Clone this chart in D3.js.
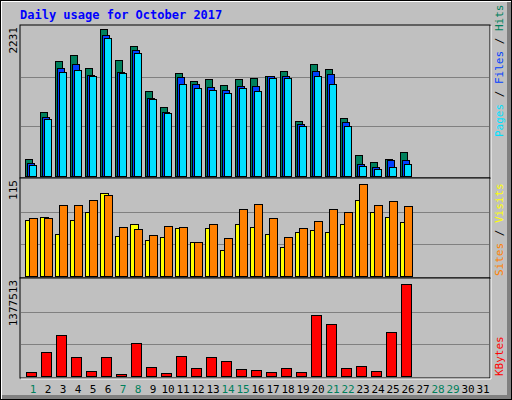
<!DOCTYPE html>
<html><head><meta charset="utf-8">
<script src="https://cdn.jsdelivr.net/npm/d3@7"></script>
<style>body{margin:0;background:#fff}text{font-family:"DejaVu Sans Mono",monospace}</style>
</head><body>
<script>
let days = d3.range(1, 32);
let weekend = [1, 7, 8, 14, 15, 21, 22, 28, 29];
let hits = [258,971,1744,1836,1638,2231,1760,1972,1289,1047,1563,1441,1471,1380,1471,1486,1517,1592,834,1698,1623,879,318,212,258,364];
let files = [197,895,1638,1698,1532,2139,1577,1911,1183,971,1501,1395,1349,1305,1365,1365,1517,1517,788,1592,1547,819,182,137,243,243];
let pages = [167,865,1577,1608,1517,2093,1563,1866,1168,956,1395,1335,1305,1259,1335,1289,1486,1486,759,1517,1395,759,152,106,137,182];
let visits = [70,74,52.5,70,80,104,50,65,45,49,60,42.5,60,32.5,65,61,52.5,36,55,57.5,55,65,95,80,74,67.5];
let sites = [72.5,72.5,89,89,95,101,61,59,51,62.5,61,42.5,65,47.5,84,90,72.5,49,60,69,84,80,115,89,94,87.5];
let kbytes = [65351,351890,608267,291566,80432,291566,35189,487619,140756,50270,306647,125675,291566,231242,110594,95513,65351,125675,65351,909887,774158,125675,155837,80432,653510,1377513];

let svg = d3.select('body').append('svg').attr('width', 512).attr('height', 400);

// outer frame
svg.append('rect').attr('width', 512).attr('height', 400).attr('fill', '#000');
svg.append('rect').attr('x', 1).attr('y', 1).attr('width', 510).attr('height', 398).attr('fill', '#fff');
svg.append('rect').attr('x', 2).attr('y', 2).attr('width', 509).attr('height', 397).attr('fill', '#808080');
svg.append('rect').attr('x', 2).attr('y', 2).attr('width', 505).attr('height', 393).attr('fill', '#C0C0C0');

svg.append('text').attr('x', 20).attr('y', 19).attr('fill', '#0000FF')
    .attr('font-size', 12).attr('font-weight', 'bold').text('Daily usage for October 2017');

let x = d3.scaleBand().domain(days).range([20, 485]);

let panels = [
    {top: 25, bottom: 178, base: 176, max: 2231, label: '2231', scaleTop: 29},
    {top: 178, bottom: 278, base: 276, max: 115, label: '115', scaleTop: 184},
    {top: 278, bottom: 378, base: 376, max: 1377513, label: '1377513', scaleTop: 284}
];

panels.forEach(p => {
    p.y = d3.scaleLinear().domain([0, p.max]).range([p.base, p.scaleTop]);
    svg.append('rect').attr('x', 20).attr('y', p.top).attr('width', 470).attr('height', p.bottom - p.top)
        .attr('fill', '#C0C0C0').attr('stroke', '#000');
    svg.append('line').attr('x1', 21).attr('x2', 491).attr('y1', p.bottom + 1).attr('y2', p.bottom + 1).attr('stroke', '#fff');
    svg.append('line').attr('x1', 491).attr('x2', 491).attr('y1', p.top + 1).attr('y2', p.bottom + 1).attr('stroke', '#fff');
    let gy = d3.scaleLinear().domain([0, 3]).range([p.base, p.top + 2]);
    [1, 2].forEach(g => svg.append('line').attr('x1', 21).attr('x2', 489)
        .attr('y1', Math.round(gy(g)) + 0.5).attr('y2', Math.round(gy(g)) + 0.5).attr('stroke', '#808080'));
    svg.append('text').attr('transform', `translate(17,${p.top + 2}) rotate(-90)`)
        .attr('text-anchor', 'end').attr('font-size', 11).attr('fill', '#000').text(p.label);
});

let bars = function(data, p, off, w, color) {
    svg.append('g').selectAll('rect').data(data).enter().append('rect')
        .attr('x', (d, i) => x(i + 1) + off + 0.5)
        .attr('y', d => Math.round(p.y(d)) + 0.5)
        .attr('width', w)
        .attr('height', d => p.base - Math.round(p.y(d)))
        .attr('fill', color).attr('stroke', '#000');
};

bars(hits, panels[0], 5, 7, '#00805C');
bars(files, panels[0], 7, 7, '#0040FF');
bars(pages, panels[0], 9, 7, '#00E0FF');
bars(visits, panels[1], 5, 8, '#FFFF00');
bars(sites, panels[1], 9, 8, '#FF8000');
bars(kbytes, panels[2], 6, 10, '#FF0000');

// right-side legends
let legend = function(parts, xPos, yBottom) {
    let t = svg.append('text').attr('transform', `translate(${xPos},${yBottom}) rotate(-90)`)
        .attr('font-size', 11);
    parts.forEach(s => t.append('tspan').attr('fill', s[1]).text(s[0]));
};
legend([['Pages', '#00E0FF'], [' / ', '#000'], ['Files', '#0040FF'], [' / ', '#000'], ['Hits', '#00805C']], 503, 137);
legend([['Sites', '#FF8000'], [' / ', '#000'], ['Visits', '#FFFF00']], 503, 276);
legend([['KBytes', '#FF0000']], 503, 376);

svg.append('g').selectAll('text').data(days).enter().append('text')
    .attr('x', d => x(d) + 13).attr('y', 393).attr('text-anchor', 'middle').attr('font-size', 11)
    .attr('fill', d => weekend.includes(d) ? '#00805C' : '#000').text(d => d);
</script>
</body></html>
